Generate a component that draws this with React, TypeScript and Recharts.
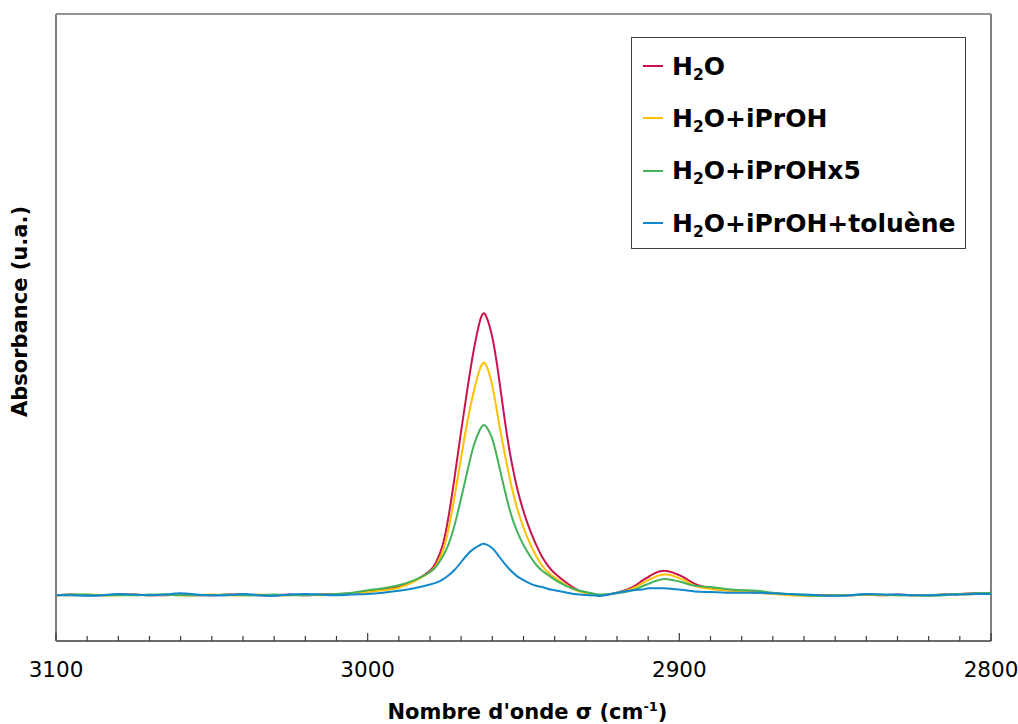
import React from 'react'
import { LineChart, Line, XAxis, YAxis, ReferenceLine, Legend } from 'recharts'

const FONT = "'DejaVu Sans', Verdana, sans-serif"

// wavenumber grid (cm-1)
const wavenumbers = [
  3100, 3095, 3090, 3085, 3080, 3075, 3070, 3065, 3060, 3055,
  3050, 3045, 3040, 3035, 3030, 3025, 3020, 3015, 3010, 3005,
  3000, 2995, 2990, 2985, 2980, 2978, 2976, 2974, 2972, 2970,
  2968, 2966, 2964, 2963, 2962, 2960, 2958, 2956, 2954, 2952,
  2950, 2948, 2946, 2944, 2942, 2940, 2936, 2932, 2928, 2925,
  2920, 2915, 2912, 2910, 2908, 2905, 2902, 2900, 2898, 2895,
  2890, 2885, 2880, 2875, 2870, 2865, 2860, 2855, 2850, 2845,
  2840, 2835, 2830, 2825, 2820, 2815, 2810, 2805, 2800,
]

const h2o = [
  0.073, 0.074, 0.073, 0.073, 0.074, 0.074, 0.073, 0.073, 0.074, 0.073,
  0.073, 0.074, 0.074, 0.073, 0.073, 0.074, 0.073, 0.074, 0.075, 0.076,
  0.079, 0.082, 0.087, 0.096, 0.112, 0.126, 0.152, 0.200, 0.265, 0.335,
  0.402, 0.463, 0.510, 0.522, 0.518, 0.484, 0.424, 0.352, 0.290, 0.243,
  0.207, 0.178, 0.154, 0.134, 0.119, 0.108, 0.092, 0.080, 0.075, 0.073,
  0.077, 0.086, 0.096, 0.102, 0.108, 0.112, 0.109, 0.105, 0.100, 0.091,
  0.084, 0.081, 0.080, 0.077, 0.076, 0.074, 0.073, 0.073, 0.073, 0.073,
  0.074, 0.073, 0.074, 0.073, 0.073, 0.074, 0.075, 0.076, 0.076,
]

const h2oIprOH = [
  0.073, 0.073, 0.074, 0.073, 0.073, 0.074, 0.073, 0.074, 0.073, 0.073,
  0.074, 0.073, 0.073, 0.074, 0.073, 0.073, 0.074, 0.073, 0.074, 0.075,
  0.078, 0.081, 0.085, 0.095, 0.110, 0.121, 0.142, 0.180, 0.234, 0.293,
  0.350, 0.397, 0.434, 0.443, 0.440, 0.407, 0.351, 0.298, 0.250, 0.211,
  0.181, 0.156, 0.136, 0.120, 0.109, 0.101, 0.088, 0.079, 0.075, 0.073,
  0.077, 0.084, 0.092, 0.097, 0.102, 0.106, 0.104, 0.100, 0.096, 0.088,
  0.083, 0.081, 0.079, 0.077, 0.075, 0.073, 0.072, 0.072, 0.073, 0.073,
  0.074, 0.073, 0.073, 0.073, 0.073, 0.074, 0.074, 0.075, 0.076,
]

const h2oIprOHx5 = [
  0.073, 0.074, 0.074, 0.073, 0.073, 0.073, 0.074, 0.074, 0.073, 0.073,
  0.073, 0.074, 0.073, 0.073, 0.074, 0.073, 0.073, 0.074, 0.075, 0.077,
  0.081, 0.084, 0.089, 0.097, 0.110, 0.119, 0.134, 0.155, 0.187, 0.228,
  0.271, 0.311, 0.337, 0.344, 0.342, 0.322, 0.283, 0.240, 0.202, 0.174,
  0.153, 0.136, 0.122, 0.112, 0.105, 0.098, 0.087, 0.080, 0.076, 0.074,
  0.076, 0.081, 0.087, 0.091, 0.095, 0.099, 0.097, 0.095, 0.092, 0.088,
  0.086, 0.083, 0.081, 0.080, 0.077, 0.075, 0.073, 0.072, 0.073, 0.073,
  0.074, 0.074, 0.073, 0.073, 0.072, 0.073, 0.075, 0.076, 0.077,
]

const h2oIprOHToluene = [
  0.073, 0.073, 0.072, 0.073, 0.075, 0.074, 0.073, 0.074, 0.076, 0.074,
  0.073, 0.073, 0.075, 0.073, 0.072, 0.074, 0.075, 0.074, 0.073, 0.074,
  0.075, 0.077, 0.080, 0.084, 0.090, 0.093, 0.098, 0.105, 0.114, 0.126,
  0.138, 0.147, 0.153, 0.155, 0.154, 0.148, 0.136, 0.123, 0.112, 0.103,
  0.097, 0.092, 0.088, 0.086, 0.083, 0.081, 0.077, 0.074, 0.073, 0.072,
  0.077, 0.081, 0.082, 0.084, 0.084, 0.084, 0.083, 0.082, 0.081, 0.079,
  0.078, 0.077, 0.077, 0.077, 0.076, 0.075, 0.074, 0.073, 0.072, 0.073,
  0.075, 0.074, 0.074, 0.073, 0.073, 0.074, 0.074, 0.075, 0.075,
]

const xTicks = [
  3100, 3090, 3080, 3070, 3060, 3050, 3040, 3030, 3020, 3010,
  3000, 2990, 2980, 2970, 2960, 2950, 2940, 2930, 2920, 2910,
  2900, 2890, 2880, 2870, 2860, 2850, 2840, 2830, 2820, 2810, 2800,
]

const seriesKeys = ['h2o', 'iproh', 'iprohx5', 'toluene']
const seriesNames = ['H2O', 'H2O+iPrOH', 'H2O+iPrOHx5', 'H2O+iPrOH+toluène']
const seriesColors = ['#C8144B', '#FFC000', '#44B35C', '#1187CE']

const data = wavenumbers.map((wn, i) => ({
  wn,
  h2o: h2o[i],
  iproh: h2oIprOH[i],
  iprohx5: h2oIprOHx5[i],
  toluene: h2oIprOHToluene[i],
}))

const formula = (name: string) => (
  <>
    H<sub style={{ fontSize: '0.62em', verticalAlign: '-0.3em', lineHeight: 0 }}>2</sub>O{name.slice(3)}
  </>
)

const LegendBox = () => (
  <div
    style={{
      width: 335, height: 212, boxSizing: 'border-box', border: '1px solid #404040',
      background: '#fff', position: 'relative', fontFamily: FONT,
    }}
  >
    {seriesNames.map((name, i) => (
      <div
        key={name}
        style={{ position: 'absolute', left: 0, top: 13 + i * 52.4, height: 30, display: 'flex', alignItems: 'center' }}
      >
        <span style={{ display: 'inline-block', width: 20, height: 2, background: seriesColors[i], marginLeft: 11, marginRight: 9 }} />
        <span style={{ fontSize: 25, fontWeight: 700, color: '#000', whiteSpace: 'nowrap' }}>{formula(name)}</span>
      </div>
    ))}
  </div>
)

// eslint-disable-next-line @typescript-eslint/no-explicit-any
const XTick = ({ x, y, payload }: any) => {
  const major = payload.value % 100 === 0
  return (
    <g>
      <line x1={x} x2={x} y1={y} y2={y - (major ? 8 : 5)} stroke="#3a3a3a" strokeWidth={1.2} />
      {major && (
        <text x={x} y={y + 36} textAnchor="middle" fontSize={21.5} fontFamily={FONT} fill="#000">
          {payload.value}
        </text>
      )}
    </g>
  )
}

// eslint-disable-next-line @typescript-eslint/no-explicit-any
const XTitle = ({ viewBox }: any) => (
  <text
    x={viewBox.x + viewBox.width / 2 + 4}
    y={viewBox.y + 78}
    textAnchor="middle"
    fontSize={21}
    fontWeight={700}
    fontFamily={FONT}
    fill="#000"
  >
    Nombre d'onde σ (cm<tspan dy={-8} fontSize={13}>-1</tspan><tspan dy={8}>)</tspan>
  </text>
)

// eslint-disable-next-line @typescript-eslint/no-explicit-any
const YTitle = ({ viewBox }: any) => {
  const cx = viewBox.x + 20
  const cy = viewBox.y + viewBox.height / 2 - 16
  return (
    <text
      x={cx}
      y={cy}
      transform={`rotate(-90, ${cx}, ${cy})`}
      textAnchor="middle"
      dominantBaseline="central"
      fontSize={21}
      fontWeight={700}
      fontFamily={FONT}
      fill="#000"
    >
      Absorbance (u.a.)
    </text>
  )
}

export default function App() {
  return (
    <div style={{ position: 'absolute', left: 0, top: 0, background: '#fff' }}>
      <LineChart width={1018} height={724} data={data} margin={{ top: 14, right: 27, left: 0, bottom: 0 }}>
        <XAxis
          dataKey="wn"
          type="number"
          domain={[2800, 3100]}
          reversed
          ticks={xTicks}
          interval={0}
          height={83}
          tickSize={0}
          tickMargin={0}
          tickLine={false}
          tick={<XTick />}
          axisLine={{ stroke: '#3a3a3a', strokeWidth: 1.5 }}
          label={XTitle}
        />
        <YAxis
          type="number"
          domain={[0, 1]}
          width={56}
          tick={false}
          tickLine={false}
          axisLine={{ stroke: '#808080', strokeWidth: 2 }}
          label={YTitle}
        />
        <ReferenceLine y={1} stroke="#6e6e6e" strokeWidth={1.5} />
        <ReferenceLine x={2800} stroke="#808080" strokeWidth={2} />
        {seriesKeys.map((key, i) => (
          <Line
            key={key}
            type="natural"
            dataKey={key}
            name={seriesNames[i]}
            stroke={seriesColors[i]}
            strokeWidth={2}
            dot={false}
            activeDot={false}
            isAnimationActive={false}
          />
        ))}
        <Legend
          layout="vertical"
          align="center"
          verticalAlign="middle"
          content={<LegendBox />}
          wrapperStyle={{ left: 631, top: 37, width: 335, height: 212 }}
        />
      </LineChart>
    </div>
  )
}
